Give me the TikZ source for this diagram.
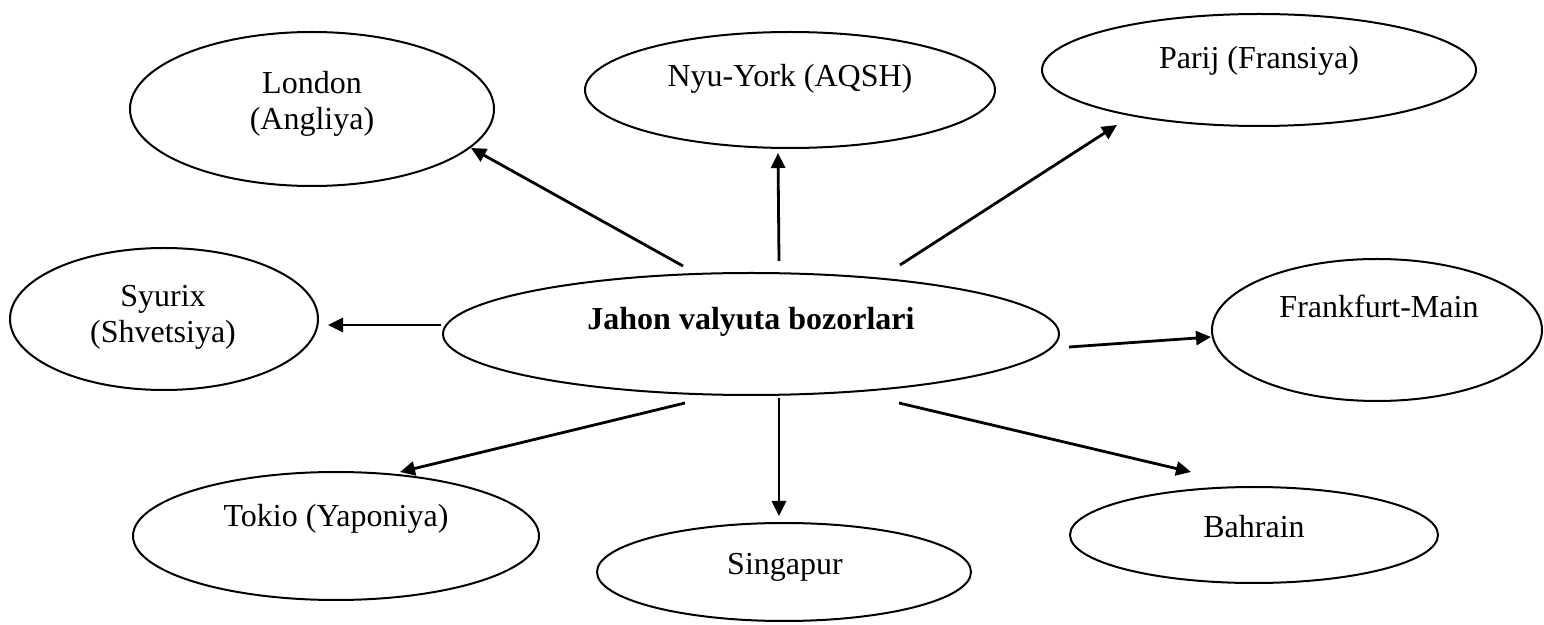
\documentclass[tikz,border=0pt]{standalone}
\usepackage{fontspec}
\setmainfont{Liberation Serif}
\usepackage{tikz}
\usetikzlibrary{arrows.meta, shapes.geometric}
\tikzset{
	market/.style 2 args={draw, ellipse, line width=1pt, inner sep=0pt, minimum width=#1, minimum height=#2},
	mlabel/.style={font=\fontsize{16}{18}\selectfont, align=center, inner sep=0pt},
	linkarr/.style={-{Triangle[length=7.5pt, width=7pt]}, line width=1.4pt},
}
\begin{document}
\begin{tikzpicture}[x=0.5pt, y=-0.5pt]
	\useasboundingbox (0,0) rectangle (1544,625);

	% Centre
	\node[market={308pt}{61pt}] (jahon) at (751,334) {};
	\node[mlabel, font=\fontsize{16}{18}\selectfont\bfseries, anchor=base] (jahon-t) at (751,330) {Jahon valyuta bozorlari};

	% Markets
	\node[market={182pt}{77pt}] (london) at (312,109) {};
	\node[mlabel] (london-t) at (312,103.5) {London\\(Angliya)};
	\node[market={205pt}{58pt}] (nyuyork) at (790,90) {};
	\node[mlabel, anchor=base] (nyuyork-t) at (790,87) {Nyu-York (AQSH)};
	\node[market={217pt}{56pt}] (parij) at (1259,70) {};
	\node[mlabel, anchor=base] (parij-t) at (1259,69) {Parij (Fransiya)};
	\node[market={154pt}{71pt}] (syurix) at (164,319) {};
	\node[mlabel] (syurix-t) at (163,317.5) {Syurix\\(Shvetsiya)};
	\node[market={165pt}{71pt}] (frankfurt) at (1377,330) {};
	\node[mlabel, anchor=base] (frankfurt-t) at (1379,318) {Frankfurt-Main};
	\node[market={203pt}{64pt}] (tokio) at (336,536) {};
	\node[mlabel, anchor=base] (tokio-t) at (336,527) {Tokio (Yaponiya)};
	\node[market={187pt}{49pt}] (singapur) at (784,572) {};
	\node[mlabel, anchor=base] (singapur-t) at (785,575) {Singapur};
	\node[market={184pt}{48pt}] (bahrain) at (1254,535) {};
	\node[mlabel, anchor=base] (bahrain-t) at (1254,538) {Bahrain};

	% Arrows
	\draw[linkarr] ([shift={(-68,-6)}]jahon.north) -- ([shift={(-24,39)}]london.east);
	\draw[linkarr] ([shift={(28,-11)}]jahon.north) -- ([shift={(-12,4)}]nyuyork.south);
	\draw[linkarr] ([shift={(149,-7)}]jahon.north) -- ([shift={(-142,-2)}]parij.south);
	\draw[linkarr] ([shift={(-1,-9)}]jahon.west) -- ([shift={(9,6)}]syurix.east);
	\draw[linkarr] ([shift={(9,13)}]jahon.east) -- ([shift={(0,7)}]frankfurt.west);
	\draw[linkarr] ([shift={(-66,7)}]jahon.south) -- ([shift={(64,1)}]tokio.north);
	\draw[linkarr] ([shift={(28,2)}]jahon.south) -- ([shift={(-5,-6)}]singapur.north);
	\draw[linkarr] ([shift={(148,7)}]jahon.south) -- ([shift={(-63,-14)}]bahrain.north);
\end{tikzpicture}
\end{document}
